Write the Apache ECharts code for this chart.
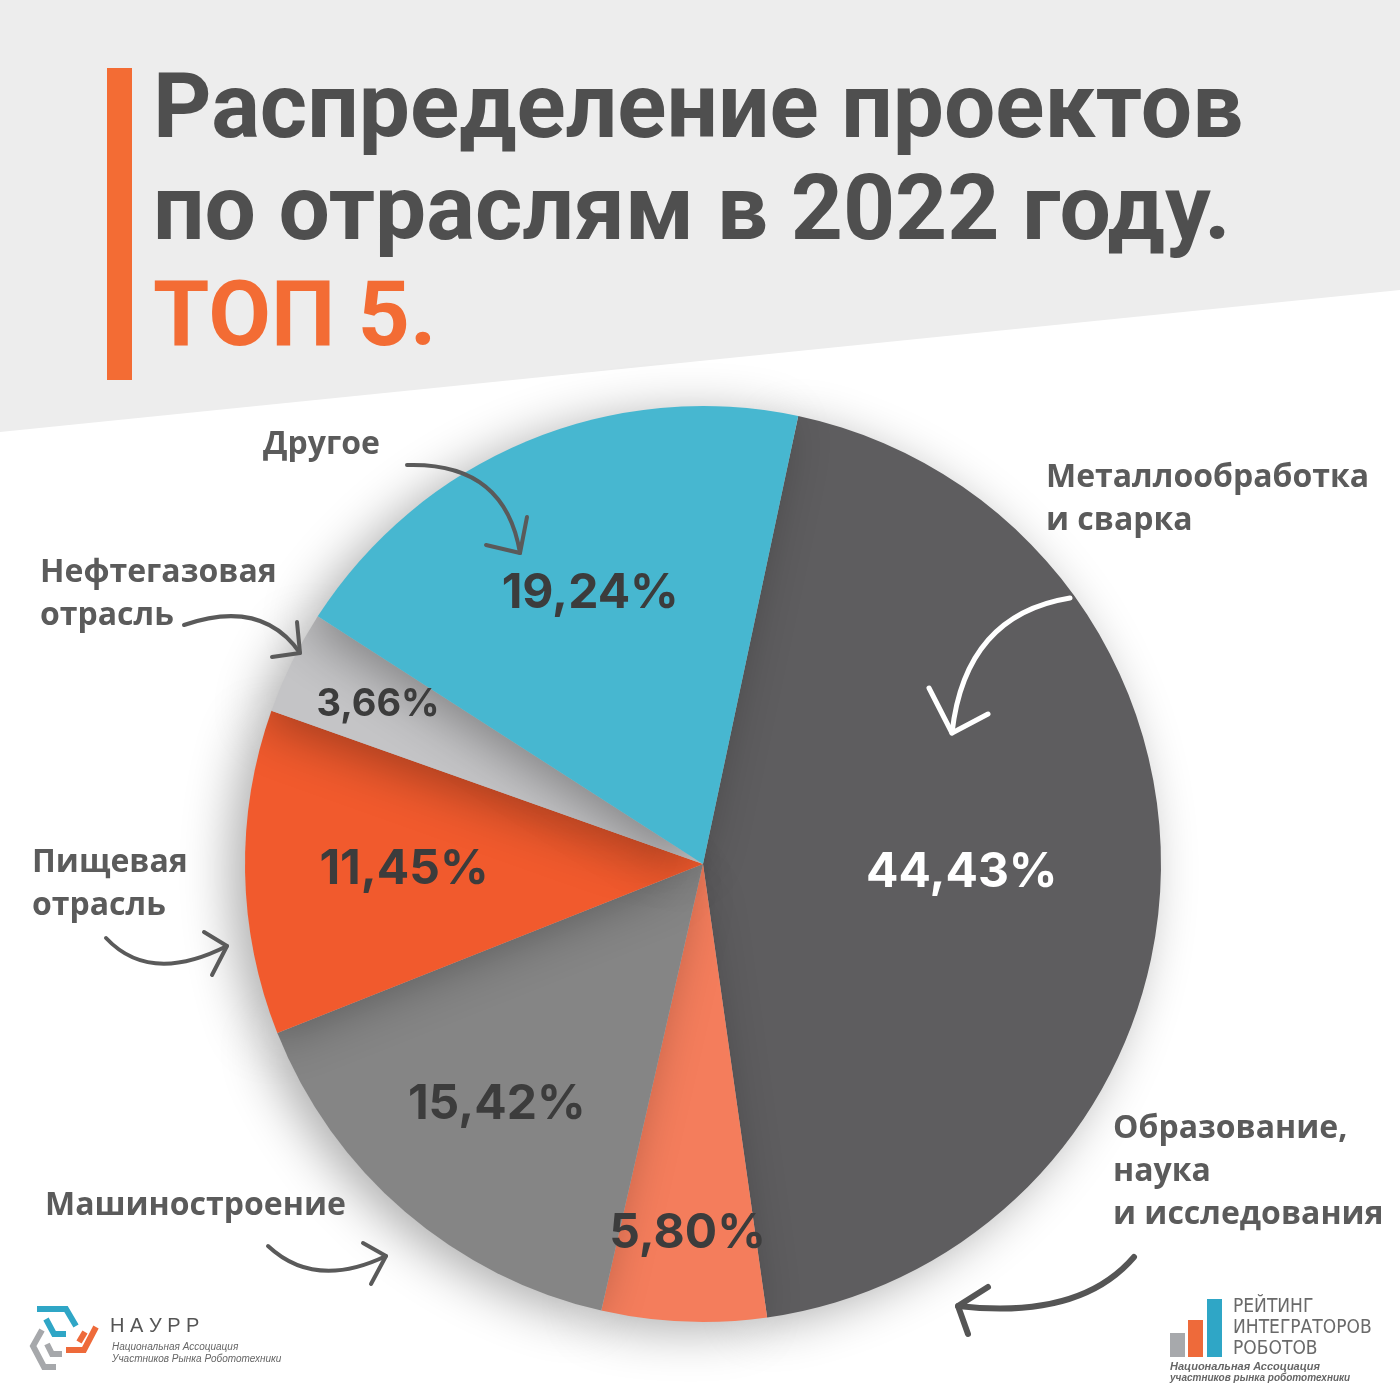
<!DOCTYPE html>
<html><head><meta charset="utf-8">
<script src="https://cdn.jsdelivr.net/npm/echarts@6/dist/echarts.min.js"></script>
<style>html,body{margin:0;padding:0;background:#fff}#c{width:1400px;height:1400px}</style>
</head><body><div id="c"></div>
<script>
// ---- data ----
const categories = ['Металлообработка\nи сварка', 'Образование,\nнаука\nи исследования', 'Машиностроение', 'Пищевая\nотрасль', 'Нефтегазовая\nотрасль', 'Другое'];
const values = [44.43, 5.80, 15.42, 11.45, 3.66, 19.24];
const titleLines = ['Распределение проектов', 'по отраслям в 2022 году.', 'ТОП 5.'];

// ---- styles ----
const colors = ['#5e5d5f', '#f47d5c', '#858585', '#f15a2d', '#c4c4c6', '#47b7d0'];
const valueColors = ['#ffffff', '#3c3c3c', '#3c3c3c', '#3c3c3c', '#3c3c3c', '#3c3c3c'];
const valueSizes = [48, 48, 48, 48, 38, 48];
const labelRadius = [256, 367, 314, 296, 359, 290];
const nameColor = '#5b5b5b';
const nameFont = 'bold 32px "Open Sans"';
const namePos = [[1046, 477], [1113, 1128], [45, 1205], [32, 862], [40, 572], [263, 444]];
const CENTER = [703, 864], R = 458, START = 78;

const fmt = v => v.toFixed(2).replace('.', ',') + '%';

const pieData = values.map((v, i) => ({ name: categories[i], value: v, itemStyle: { color: colors[i] } }));

const g = [];
// background
g.push({ type: 'polygon', z: -100, shape: { points: [[0, 0], [1400, 0], [1400, 290], [0, 432]] }, style: { fill: '#ededed' } });
g.push({ type: 'rect', z: 10, shape: { x: 107, y: 68, width: 25, height: 312 }, style: { fill: '#f36c34' } });
// title
const tY = [114, 216, 322];
titleLines.forEach((t, i) => {
  g.push({ type: 'text', z: 10, x: 153, y: tY[i], style: { text: t, font: 'bold 91px Roboto', fill: i < 2 ? '#4f4f4f' : '#f36c34', textAlign: 'left', textVerticalAlign: 'middle', align: 'left', verticalAlign: 'middle' } });
});
// category names
categories.forEach((c, i) => {
  g.push({ type: 'text', z: 10, x: namePos[i][0], y: namePos[i][1] - 21, style: { text: c, font: nameFont, fill: nameColor, lineHeight: 43, textAlign: 'left', textVerticalAlign: 'top', align: 'left', verticalAlign: 'top' } });
});
// arrows
function arrow(p0, cp, p1, b1, b2, color, w) {
  g.push({ type: 'bezierCurve', z: 20, shape: { x1: p0[0], y1: p0[1], cpx1: cp[0], cpy1: cp[1], x2: p1[0], y2: p1[1] }, style: { stroke: color, lineWidth: w, fill: null, lineCap: 'round' } });
  g.push({ type: 'polyline', z: 20, shape: { points: [b1, p1, b2] }, style: { stroke: color, lineWidth: w, fill: null, lineCap: 'round', lineJoin: 'round' } });
}
const ac = '#5a5a5a';
arrow([407, 465], [505, 462], [520, 553], [527, 517], [486, 545], ac, 4);
arrow([184, 625], [262, 598], [300, 653], [297, 622], [272, 657], ac, 4);
arrow([106, 938], [150, 985], [227, 946], [204, 932], [212, 975], ac, 4);
arrow([268, 1246], [315, 1290], [386, 1256], [363, 1243], [371, 1284], ac, 4);
arrow([1070, 598], [965, 615], [952, 733], [929, 688], [988, 714], '#ffffff', 5);
arrow([1134, 1257], [1080, 1320], [958, 1306], [988, 1287], [968, 1334], '#555555', 6);

// left logo
const lw = 6;
g.push({ type: 'polyline', z: 10, shape: { points: [[37, 1309], [66, 1309], [76, 1326]] }, style: { stroke: '#2fa6c6', lineWidth: lw, fill: null } });
g.push({ type: 'polyline', z: 10, shape: { points: [[46, 1319], [54, 1334], [66, 1334]] }, style: { stroke: '#2fa6c6', lineWidth: lw, fill: null } });
g.push({ type: 'polyline', z: 10, shape: { points: [[96, 1327], [84, 1350], [66, 1350]] }, style: { stroke: '#ee6a3a', lineWidth: lw, fill: null } });
g.push({ type: 'polyline', z: 10, shape: { points: [[85, 1332], [79, 1342]] }, style: { stroke: '#ee6a3a', lineWidth: lw, fill: null } });
g.push({ type: 'polyline', z: 10, shape: { points: [[42, 1330], [33, 1346], [44, 1367], [56, 1367]] }, style: { stroke: '#a6a8ab', lineWidth: lw, fill: null } });
g.push({ type: 'polyline', z: 10, shape: { points: [[47, 1344], [52, 1354], [62, 1354]] }, style: { stroke: '#a6a8ab', lineWidth: lw, fill: null } });
g.push({ type: 'text', z: 10, x: 110, y: 1326, style: { text: 'Н А У Р Р', font: '20px "Liberation Sans"', fill: '#555', textVerticalAlign: 'middle', verticalAlign: 'middle' } });
g.push({ type: 'text', z: 10, x: 112, y: 1347, style: { text: 'Национальная Ассоциация', font: 'italic 10px "Liberation Sans"', fill: '#666', textVerticalAlign: 'middle', verticalAlign: 'middle' } });
g.push({ type: 'text', z: 10, x: 112, y: 1359, style: { text: 'Участников Рынка Робототехники', font: 'italic 10px "Liberation Sans"', fill: '#666', textVerticalAlign: 'middle', verticalAlign: 'middle' } });
// right logo
g.push({ type: 'rect', z: 10, shape: { x: 1170, y: 1333, width: 15, height: 24 }, style: { fill: '#a7a9ac' } });
g.push({ type: 'rect', z: 10, shape: { x: 1188, y: 1320, width: 15, height: 37 }, style: { fill: '#ee6a3a' } });
g.push({ type: 'rect', z: 10, shape: { x: 1207, y: 1299, width: 15, height: 58 }, style: { fill: '#2fa6c6' } });
['РЕЙТИНГ', 'ИНТЕГРАТОРОВ', 'РОБОТОВ'].forEach((t, i) => {
  g.push({ type: 'text', z: 10, x: 1233, y: 1307 + i * 21, style: { text: t, font: '19px "DejaVu Sans Condensed"', fill: '#6a6a6a', textVerticalAlign: 'middle', verticalAlign: 'middle' } });
});
g.push({ type: 'text', z: 10, x: 1170, y: 1367, style: { text: 'Национальная Ассоциация', font: 'italic bold 11px "Liberation Sans"', fill: '#666', textVerticalAlign: 'middle', verticalAlign: 'middle' } });
g.push({ type: 'text', z: 10, x: 1170, y: 1378, style: { text: 'участников рынка робототехники', font: 'italic bold 10px "Liberation Sans"', fill: '#666', textVerticalAlign: 'middle', verticalAlign: 'middle' } });

// one transparent overlay per value label so each label sits at its own radius
const overlays = values.map((_, k) => ({
  type: 'pie', center: CENTER, radius: [2 * labelRadius[k] - 440, 440], startAngle: START, clockwise: true,
  silent: true, avoidLabelOverlap: false, z: 5,
  itemStyle: { color: 'rgba(0,0,0,0)' },
  labelLine: { show: false },
  label: { position: 'inside', fontFamily: 'Inter', fontWeight: 'bold', formatter: p => fmt(p.value) },
  data: values.map((v, i) => ({ name: categories[i], value: v, label: { show: i === k, color: valueColors[i], fontSize: valueSizes[i] } }))
}));

const chart = echarts.init(document.getElementById('c'));
chart.setOption({
  animation: false,
  backgroundColor: '#ffffff',
  graphic: { elements: g },
  series: [
    {
      type: 'pie', center: CENTER, radius: R, startAngle: START, clockwise: true,
      label: { show: false }, labelLine: { show: false }, silent: true,
      itemStyle: { shadowBlur: 50, shadowColor: 'rgba(0,0,0,0.32)', shadowOffsetX: -14, shadowOffsetY: 8 },
      data: pieData, z: 2
    }
  ].concat(overlays)
});
</script></body></html>
